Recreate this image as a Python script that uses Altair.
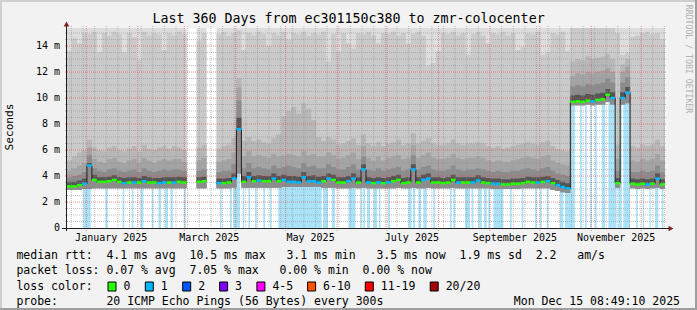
import altair as alt
import pandas as pd
from datetime import datetime, timedelta

# ---------------- values ----------------
END = datetime(2025, 12, 15, 8, 49, 10)
START = END - timedelta(days=360)
BIN_DAYS = 3            # one value per 3-day bin, 120 bins
Y_TOP = 200 / 13.0      # ms at the top edge of the canvas

# median rtt per bin (ms); None = no data
MEDIAN = [3.2,3.2,3.3,3.4,4.8,3.7,3.55,3.55,3.6,3.7,
          3.55,3.45,3.5,3.5,3.5,3.6,3.5,3.5,3.45,3.5,
          3.5,3.5,3.55,3.5,None,None,3.55,3.6,None,None,
          3.45,3.45,3.5,3.8,7.6,3.55,3.9,3.6,3.65,3.6,
          3.6,3.8,3.6,3.7,3.55,3.55,3.5,3.9,3.6,3.6,
          3.5,3.6,3.8,3.7,3.5,3.5,3.6,3.8,3.5,4.5,
          3.5,3.45,3.5,3.45,3.5,3.6,3.7,3.45,3.5,4.5,
          3.5,3.7,3.8,3.5,3.5,3.45,3.5,3.7,3.5,3.5,
          3.5,3.5,3.65,3.5,3.45,3.4,3.4,3.35,3.35,3.4,
          3.4,3.45,3.55,3.5,3.5,3.55,3.6,3.45,3.3,3.15,
          3.05,9.7,9.75,9.7,9.8,9.75,9.85,9.9,10.25,10.0,
          3.45,10.0,10.4,3.4,3.35,3.4,3.35,3.4,3.8,3.35]

# lost pings (of 20) per bin
LOSS = [0,0,0,1,1,0,0,0,0,0,
        0,1,0,1,0,1,0,0,1,1,
        0,1,0,0,None,None,0,0,None,None,
        1,0,0,1,1,0,1,0,1,0,
        0,1,0,1,1,1,1,1,1,1,
        1,0,1,0,0,0,1,1,0,1,
        1,0,1,0,1,0,0,0,0,1,
        0,1,1,0,0,0,0,0,1,0,
        0,1,1,0,0,1,1,0,0,0,
        0,0,0,0,1,0,1,0,1,1,
        1,0,0,0,0,1,0,0,0,1,
        0,1,1,0,0,0,1,0,1,0]

# smoke: lower edge and upper levels of the ping distribution (ms)
SMOKE_LO = [2.95,2.95,2.95,3.0,3.0,3.05,3.05,3.05,3.05,3.05,
            3.05,3.05,3.05,3.05,3.05,3.05,3.05,3.05,3.05,3.05,
            3.05,3.05,3.05,3.05,None,None,3.05,3.05,None,None,
            3.05,3.05,3.05,3.1,4.2,3.1,3.1,3.1,3.1,3.1,
            3.1,3.1,3.1,3.15,3.15,3.15,3.15,3.15,3.15,3.15,
            3.15,3.1,3.1,3.1,3.05,3.05,3.05,3.1,3.05,3.1,
            3.05,3.05,3.05,3.05,3.05,3.05,3.1,3.05,3.05,3.1,
            3.05,3.05,3.1,3.05,3.05,3.05,3.05,3.1,3.05,3.05,
            3.05,3.05,3.05,3.05,3.05,3.0,3.0,3.0,3.0,3.0,
            3.0,3.05,3.05,3.05,3.05,3.05,3.05,2.95,2.85,2.75,
            2.7,9.45,9.45,9.45,9.5,9.45,9.5,9.5,9.7,9.5,
            3.1,9.5,9.6,3.05,3.0,3.05,3.0,3.05,3.1,3.0]

SMOKE_U1 = [3.55,3.55,3.65,3.8,5.0,4.1,3.9,3.9,3.95,4.05,
            3.9,3.85,3.9,3.9,3.85,4.0,3.9,3.85,3.85,3.9,
            3.9,3.9,3.95,3.9,None,None,3.9,3.95,None,None,
            3.8,3.8,3.85,4.2,8.5,4.0,4.3,4.0,4.05,4.0,
            4.0,4.2,4.0,4.1,4.0,4.0,3.95,4.3,4.0,4.05,
            3.95,4.0,4.2,4.1,3.9,3.9,4.0,4.2,3.9,4.9,
            3.9,3.85,3.9,3.85,3.9,4.0,4.1,3.85,3.9,4.9,
            3.9,4.1,4.2,3.9,3.9,3.85,3.9,4.1,3.9,3.9,
            3.9,3.9,4.05,3.9,3.85,3.8,3.8,3.75,3.75,3.8,
            3.8,3.85,3.95,3.9,3.9,3.95,4.0,3.85,3.7,3.55,
            3.45,10.2,10.25,10.2,10.3,10.25,10.35,10.4,10.7,10.45,
            3.85,10.45,10.85,3.8,3.75,3.8,3.75,3.8,4.2,3.75]

SMOKE_U2 = [3.9,4.0,4.1,4.3,5.6,4.6,4.4,4.3,4.5,4.6,
            4.4,4.3,4.4,4.5,4.3,4.6,4.4,4.3,4.4,4.5,
            4.4,4.5,4.5,4.4,None,None,4.4,4.5,None,None,
            4.3,4.4,4.4,4.9,9.8,4.6,5.0,4.6,4.7,4.6,
            4.5,4.8,4.6,4.7,4.8,4.7,4.6,5.0,4.7,4.8,
            4.6,4.6,4.9,4.7,4.5,4.5,4.7,4.9,4.5,5.5,
            4.5,4.4,4.6,4.4,4.5,4.6,4.7,4.4,4.5,5.6,
            4.5,4.7,4.8,4.5,4.4,4.4,4.5,4.8,4.5,4.4,
            4.5,4.5,4.6,4.5,4.4,4.3,4.4,4.3,4.3,4.4,
            4.4,4.5,4.6,4.5,4.4,4.6,4.7,4.4,4.2,4.1,
            4.0,10.9,11.0,10.9,11.1,11.0,11.1,11.2,11.5,11.2,
            4.4,11.2,11.6,4.3,4.3,4.4,4.3,4.4,4.8,4.3]

SMOKE_U3 = [4.4,4.6,4.8,5.0,6.2,5.3,5.1,5.0,5.3,5.4,
            5.1,5.0,5.2,5.3,5.0,5.4,5.2,5.0,5.2,5.3,
            5.2,5.3,5.3,5.1,None,None,5.2,5.4,None,None,
            5.1,5.2,5.3,5.8,10.8,5.5,5.9,5.5,5.6,5.5,
            5.4,5.7,5.5,5.6,5.7,5.6,5.5,5.9,5.6,5.7,
            5.5,5.5,5.8,5.6,5.3,5.4,5.6,5.8,5.3,6.3,
            5.4,5.2,5.5,5.2,5.4,5.5,5.6,5.3,5.4,6.4,
            5.4,5.6,5.8,5.4,5.3,5.3,5.4,5.7,5.4,5.3,
            5.4,5.4,5.5,5.4,5.2,5.1,5.2,5.1,5.1,5.2,
            5.3,5.4,5.5,5.4,5.3,5.5,5.6,5.2,5.0,4.9,
            4.8,11.7,11.9,11.8,12.0,11.9,12.0,12.1,12.3,12.0,
            5.3,12.0,12.4,5.2,5.1,5.3,5.2,5.3,5.7,5.2]

SMOKE_U4 = [5.2,5.5,5.8,6.0,6.8,6.2,6.0,5.9,6.2,6.3,
            6.0,5.9,6.1,6.3,5.9,6.4,6.1,6.0,6.2,6.3,
            6.1,6.3,6.2,6.0,None,None,6.2,6.4,None,None,
            6.1,6.3,6.4,6.9,11.5,6.7,7.0,6.7,6.8,6.6,
            6.5,6.9,7.2,8.6,9.0,9.3,8.8,9.6,9.2,8.3,
            7.0,6.7,7.0,6.8,6.4,6.5,6.7,6.9,6.4,7.2,
            6.5,6.3,6.6,6.3,6.5,6.6,6.8,6.4,6.5,7.3,
            6.5,6.7,6.9,6.5,6.4,6.4,6.5,6.8,6.5,6.4,
            6.5,6.5,6.6,6.5,6.3,6.2,6.3,6.1,6.2,6.3,
            6.4,6.5,6.6,6.5,6.4,6.6,6.7,6.3,6.1,6.0,
            5.9,12.8,13.0,12.9,13.2,13.0,13.1,13.2,13.4,13.0,
            6.4,12.6,13.0,6.3,6.2,6.4,6.3,6.4,6.8,6.3]

SMOKE_U6 = [13.6,14.6,14.2,15.0,14.9,15.1,13.5,15.0,14.8,15.1,
            14.9,13.5,15.0,14.7,12.9,15.1,14.8,15.0,14.9,13.7,
            15.0,14.8,15.1,14.9,None,None,14.4,15.0,None,None,
            14.9,15.1,14.8,15.0,15.2,13.7,15.0,14.8,15.1,14.9,
            14.0,15.0,14.8,15.1,14.5,15.0,14.9,15.1,14.8,15.0,
            14.9,15.1,12.8,14.9,13.6,15.0,14.2,13.8,15.0,14.9,
            15.1,14.8,14.2,15.0,14.9,15.1,14.8,15.0,14.2,14.9,
            15.1,14.8,12.5,12.7,13.6,15.0,14.9,15.1,14.8,15.0,
            13.3,14.9,15.1,14.8,14.2,15.0,14.9,15.1,14.8,15.0,
            13.7,13.9,15.0,14.9,15.1,13.3,13.5,15.0,14.9,15.1,
            13.6,15.4,15.4,15.4,15.4,15.4,15.4,15.4,15.4,15.4,
            15.0,13.3,13.5,14.7,14.8,15.0,15.1,14.9,15.0,14.5]

# periods (days since start) with packet loss, drawn as light loss-colour bars
LOSS_SPANS = [(9.8,14.3),(23.2,24.5),(33.5,34.5),(39.0,40.0),(44.2,46.0),(51.0,52.0),
              (55.0,56.6),(59.0,60.8),(62.3,63.7),(70.4,71.5),(92.1,93.1),(98.1,99.2),
              (100.1,104.1),(105.8,106.7),(109.2,110.2),(113.2,114.2),(118.2,119.2),
              (122.2,123.2),(127.2,153.3),(154.1,157.1),(159.4,161.3),(169.4,173.7),
              (176.4,177.4),(178.4,179.4),(180.6,182.4),(184.5,186.6),(187.7,188.7),
              (193.3,194.5),(205.5,207.5),(208.3,209.5),(211.5,213.0),(214.5,216.6),
              (220.5,221.5),(230.6,231.6),(232.6,233.6),(239.6,242.6),(243.6,244.6),
              (247.6,249.7),(251.0,252.7),(253.6,254.7),(256.7,262.7),(266.7,267.7),
              (273.7,274.7),(281.8,282.8),(284.8,285.8),(288.8,289.8),(296.8,298.8),
              (299.8,305.8),(308.8,309.9),(311.9,312.9),(314.9,315.9),(317.9,318.9),
              (321.9,323.9),(325.9,330.9),(331.9,334.0),(334.9,338.9),(342.6,343.6),
              (346.6,347.4),(350.6,351.4),(354.0,356.0),(358.0,359.0)]

LOSS_CLASSES = ["0", "1", "2", "3", "4-5", "6-10", "11-19", "20/20"]
LOSS_COLORS = ["#26ff00", "#00b8ff", "#0059ff", "#7e00ff", "#ff00ff", "#ff5500", "#ff0000", "#a00000"]

Y_TICKS = [0, 2, 4, 6, 8, 10, 12, 14]
X_LABEL_MONTHS = [(2025, 1), (2025, 3), (2025, 5), (2025, 7), (2025, 9), (2025, 11)]

TITLE = "Last 360 Days from ec301150c380 to zmr-colocenter"
ROW1 = "median rtt:  4.1 ms avg  10.5 ms max   3.1 ms min   3.5 ms now  1.9 ms sd  2.2   am/s"
ROW2 = "packet loss: 0.07 % avg  7.05 % max   0.00 % min  0.00 % now"
ROW3 = "loss color:"
ROW4 = "probe:       20 ICMP Echo Pings (56 Bytes) every 300s"
STAMP = "Mon Dec 15 08:49:10 2025"

# ---------------- layout ----------------
W, H = 598, 200
PL, PT = 67, 28
FONT = "DejaVu Sans Mono"
XS = alt.Scale(domain=[0, 360], nice=False, zero=False)
YS = alt.Scale(domain=[0, Y_TOP], nice=False, zero=False)


def nb(s):
    return s.replace(" ", "\u00a0")


def day_of(dt):
    return (dt - START).total_seconds() / 86400.0


def class_of(n):
    if n <= 3:
        return str(n)
    if n <= 5:
        return "4-5"
    if n <= 10:
        return "6-10"
    if n <= 19:
        return "11-19"
    return "20/20"


def band_rows(lo, hi):
    rows, seg, i, n = [], 0, 0, len(lo)
    while i < n:
        if lo[i] is None or hi[i] is None:
            i += 1
            continue
        j = i
        while j < n and lo[j] is not None and hi[j] is not None:
            rows.append({"t": j * BIN_DAYS, "lo": lo[j], "hi": hi[j], "seg": seg})
            j += 1
        rows.append({"t": j * BIN_DAYS, "lo": lo[j - 1], "hi": hi[j - 1], "seg": seg})
        seg += 1
        i = j
    return pd.DataFrame(rows)


one = pd.DataFrame({"a": [0]})
layers = []

# loss background bars
loss_df = pd.DataFrame(LOSS_SPANS, columns=["d0", "d1"])
layers.append(alt.Chart(loss_df).mark_rect(color="#aae3f8").encode(
    x=alt.X("d0:Q", scale=XS, axis=None), x2="d1:Q",
    y=alt.value(0), y2=alt.value(H)))

# smoke
TOPS = [Y_TOP if v is not None else None for v in SMOKE_LO]
smoke_layers = [
    (SMOKE_LO, TOPS, "#dddddd"),
    (SMOKE_LO, SMOKE_U6, "#cacaca"),
    (SMOKE_LO, SMOKE_U4, "#b7b7b7"),
    (SMOKE_LO, SMOKE_U3, "#a4a4a4"),
    (SMOKE_LO, SMOKE_U2, "#8c8c8c"),
    (MEDIAN, SMOKE_U1, "#555555"),
]
for lo, hi, col in smoke_layers:
    layers.append(alt.Chart(band_rows(lo, hi)).mark_area(
        interpolate="step-after", color=col, clip=True).encode(
        x=alt.X("t:Q", scale=XS, axis=None),
        y=alt.Y("lo:Q", scale=YS, axis=None),
        y2="hi:Q",
        detail="seg:N"))

# grid
month_starts = [datetime(2025, m, 1) for m in range(1, 13)]
mondays = []
d = datetime(2024, 12, 23)
while d < END:
    if d.day != 1:
        mondays.append(d)
    d += timedelta(days=7)
minor_h = [v * 0.5 for v in range(1, 31) if v % 4 != 0]
major_h = [v for v in Y_TICKS if v > 0]

layers.append(alt.Chart(pd.DataFrame({"v": minor_h})).mark_rule(
    color="#8f8f8f", strokeDash=[1, 1], opacity=0.55, strokeWidth=1).encode(
    y=alt.Y("v:Q", scale=YS, axis=None), x=alt.value(-2), x2=alt.value(W + 2)))
layers.append(alt.Chart(pd.DataFrame({"d": [day_of(x) for x in mondays]})).mark_rule(
    color="#8f8f8f", strokeDash=[1, 1], opacity=0.55, strokeWidth=1).encode(
    x=alt.X("d:Q", scale=XS, axis=None), y=alt.value(-2), y2=alt.value(H + 2)))
layers.append(alt.Chart(pd.DataFrame({"v": major_h})).mark_rule(
    color="#de4f4f", strokeDash=[1, 1], opacity=0.6, strokeWidth=1).encode(
    y=alt.Y("v:Q", scale=YS, axis=None), x=alt.value(-2), x2=alt.value(W + 2)))
layers.append(alt.Chart(pd.DataFrame({"d": [day_of(x) for x in month_starts]})).mark_rule(
    color="#de4f4f", strokeDash=[1, 1], opacity=0.6, strokeWidth=1).encode(
    x=alt.X("d:Q", scale=XS, axis=None), y=alt.value(-2), y2=alt.value(H + 3)))

# median line (thin dark step line + thick loss-coloured steps)
med_df = band_rows(MEDIAN, MEDIAN)
layers.append(alt.Chart(med_df).mark_line(
    interpolate="step-after", color="#202020", strokeWidth=1, clip=True).encode(
    x=alt.X("t:Q", scale=XS, axis=None),
    y=alt.Y("lo:Q", scale=YS, axis=None),
    detail="seg:N"))
seg_rows = []
for k, (m, l) in enumerate(zip(MEDIAN, LOSS)):
    if m is None:
        continue
    seg_rows.append({"t0": k * BIN_DAYS, "t1": (k + 1) * BIN_DAYS, "med": m, "lc": class_of(l)})
layers.append(alt.Chart(pd.DataFrame(seg_rows)).mark_rule(strokeWidth=2.5, clip=True).encode(
    x=alt.X("t0:Q", scale=XS, axis=None), x2="t1:Q",
    y=alt.Y("med:Q", scale=YS, axis=None),
    color=alt.Color("lc:N", scale=alt.Scale(domain=LOSS_CLASSES, range=LOSS_COLORS), legend=None)))

# axes lines and arrows
layers.append(alt.Chart(one).mark_rule(color="#1f1f1f", strokeWidth=1).encode(
    x=alt.value(-5), x2=alt.value(W + 4), y=alt.value(H + 0.5)))
layers.append(alt.Chart(one).mark_rule(color="#1f1f1f", strokeWidth=1).encode(
    x=alt.value(-0.5), y=alt.value(H + 3), y2=alt.value(-2)))
layers.append(alt.Chart(one).mark_point(shape="triangle-right", filled=True, size=32,
                                        color="#801f1f", opacity=1).encode(
    x=alt.value(W + 6), y=alt.value(H + 0.5)))
layers.append(alt.Chart(one).mark_point(shape="triangle-up", filled=True, size=32,
                                        color="#801f1f", opacity=1).encode(
    x=alt.value(-0.5), y=alt.value(-4)))

# y labels
ylab = pd.DataFrame({"v": Y_TICKS,
                     "label": [nb("0  ") if v == 0 else nb(f"{v} m") for v in Y_TICKS]})
layers.append(alt.Chart(ylab).mark_text(font=FONT, fontSize=10, align="right",
                                        baseline="middle", fill="#000000").encode(
    y=alt.Y("v:Q", scale=YS, axis=None), x=alt.value(-7), text="label:N"))

# x labels (centred half a month after the month start)
xlab = pd.DataFrame({
    "d": [day_of(datetime(y, m, 1) + timedelta(days=15)) for y, m in X_LABEL_MONTHS],
    "label": [nb(datetime(y, m, 1).strftime("%B %Y")) for y, m in X_LABEL_MONTHS]})
layers.append(alt.Chart(xlab).mark_text(font=FONT, fontSize=10, align="center",
                                        baseline="middle", fill="#000000").encode(
    x=alt.X("d:Q", scale=XS, axis=None), y=alt.value(209.5), text="label:N"))


def text_at(s, x, y, size, align="left", angle=0, color="#000000"):
    return alt.Chart(one).mark_text(font=FONT, fontSize=size, align=align, baseline="middle",
                                    angle=angle, fill=color).encode(
        x=alt.value(x), y=alt.value(y), text=alt.value(nb(s)))


layers.append(text_at(TITLE, 348.5 - PL, 19 - PT, 13.3, align="center"))
layers.append(text_at("Seconds", 10 - PL, 127 - PT, 11.2, align="center", angle=270))
layers.append(text_at("RRDTOOL / TOBI OETIKER", 688 - PL, 59 - PT, 8.2, align="center",
                      angle=90, color="#b0b0b0"))

LX = 16.4 - PL
R1, R2, R3, R4 = 255.5 - PT, 271 - PT, 286.5 - PT, 302 - PT
layers.append(text_at(ROW1, LX, R1, 11.5))
layers.append(text_at(ROW2, LX, R2, 11.5))
layers.append(text_at(ROW3, LX, R3, 11.5))
layers.append(text_at(ROW4, LX, R4, 11.5))
layers.append(text_at(STAMP, 680 - PL, R4, 11.5, align="right"))

SWATCH_X = [108, 145.3, 182.7, 219.6, 256.9, 307.6, 365.3, 430.2]
for sx, lab, col in zip(SWATCH_X, LOSS_CLASSES, LOSS_COLORS):
    layers.append(alt.Chart(one).mark_rect(color=col, stroke="#000000", strokeWidth=1).encode(
        x=alt.value(sx - PL), x2=alt.value(sx - PL + 8),
        y=alt.value(R3 - 4.5), y2=alt.value(R3 + 4.5)))
    layers.append(text_at(lab, sx - PL + 15.5, R3, 11.5))

# 3-D frame of the image
layers.append(alt.Chart(one).mark_rule(color="#cfcfcf", strokeWidth=2).encode(
    x=alt.value(-PL), x2=alt.value(697 - PL), y=alt.value(1 - PT)))
layers.append(alt.Chart(one).mark_rule(color="#cfcfcf", strokeWidth=2).encode(
    x=alt.value(1 - PL), y=alt.value(-PT), y2=alt.value(310 - PT)))
layers.append(alt.Chart(one).mark_rule(color="#9e9e9e", strokeWidth=2).encode(
    x=alt.value(-PL), x2=alt.value(697 - PL), y=alt.value(309 - PT)))
layers.append(alt.Chart(one).mark_rule(color="#9e9e9e", strokeWidth=2).encode(
    x=alt.value(696 - PL), y=alt.value(-PT), y2=alt.value(310 - PT)))

chart = alt.layer(*layers).properties(
    width=W, height=H,
    padding={"left": PL, "top": PT, "right": 697 - PL - W, "bottom": 310 - PT - H},
    autosize=alt.AutoSizeParams(type="none"),
    background="#f2f2f2",
).configure_view(fill="#ffffff", stroke="transparent")

chart.save("out.html", embed_options={"renderer": "svg", "actions": False})
